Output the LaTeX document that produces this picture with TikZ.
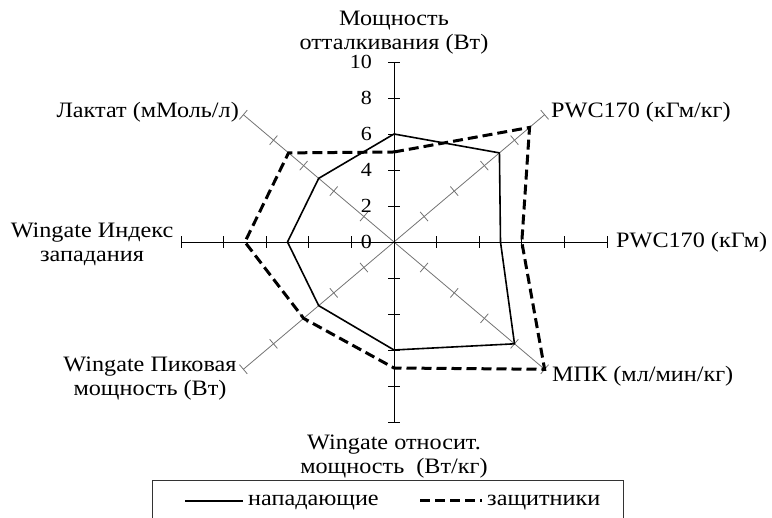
\documentclass[tikz,border=0pt]{standalone}
\usepackage{fontspec}
\setmainfont{Liberation Serif}
\usepackage{graphicx}
\newcommand{\sx}[1]{\scalebox{1.1}[1]{#1}}
\newcommand{\twol}[2]{\sx{\begin{tabular}[t]{@{}c@{}}#1\\#2\end{tabular}}}
\begin{document}
\begin{tikzpicture}[x=1pt,y=1pt,
  font=\fontsize{22}{24}\selectfont,
  lab/.style={inner sep=0pt},
  numlab/.style={inner sep=0pt, anchor=east, font=\fontsize{20}{22}\selectfont},
  axmain/.style={black, line width=0.9pt},
  axdiag/.style={black!55, line width=0.8pt},
  att/.style={black, line width=1.6pt, line join=round},
  def/.style={black, line width=3pt, dash pattern=on 10pt off 5pt},
  legbox/.style={black!80, line width=1pt}]
\useasboundingbox (0,0) rectangle (772,518);
\begin{scope}[shift={(394pt,276pt)}, x=21.3pt, y=18pt]
  % axes
  \draw[axdiag] (135:10) -- (-45:10);
  \draw[axdiag] (45:10) -- (-135:10);
  \draw[axmain] (-10,0) -- (10,0);
  \draw[axmain] (0,-10) -- (0,10);
  % ticks
  \foreach \r in {2,4,...,10} {
    \draw[axmain] (\r,0) ++(0pt,-6pt) -- ++(0pt,12pt);
    \draw[axmain] (-\r,0) ++(0pt,-6pt) -- ++(0pt,12pt);
    \draw[axmain] (0,\r) ++(-6pt,0pt) -- ++(12pt,0pt);
    \draw[axmain] (0,-\r) ++(-6pt,0pt) -- ++(12pt,0pt);
    \draw[axdiag] (45:\r) ++(-3.9pt,4.6pt) -- ++(7.8pt,-9.2pt);
    \draw[axdiag] (-135:\r) ++(-3.9pt,4.6pt) -- ++(7.8pt,-9.2pt);
    \draw[axdiag] (135:\r) ++(-3.9pt,-4.6pt) -- ++(7.8pt,9.2pt);
    \draw[axdiag] (-45:\r) ++(-3.9pt,-4.6pt) -- ++(7.8pt,9.2pt);
  }
  % scale numbers
  \foreach \v in {0,2,...,10}
    \node[numlab] (n\v) at ([xshift=-22pt]0,\v) {\sx{\v}};
  % data: нападающие
  \coordinate (a0) at (90:6);
  \coordinate (a1) at (45:7);
  \coordinate (a2) at (0:5);
  \coordinate (a3) at (-45:8);
  \coordinate (a4) at (-90:6);
  \coordinate (a5) at (-135:5);
  \coordinate (a6) at (180:5);
  \coordinate (a7) at (135:5);
  \draw[att] (a0) -- (a1) -- (a2) -- (a3) -- (a4) -- (a5) -- (a6) -- (a7) -- cycle;
  % data: защитники
  \coordinate (d0) at (90:5);
  \coordinate (d1) at (45:9);
  \coordinate (d2) at (0:6);
  \coordinate (d3) at (-45:10);
  \coordinate (d4) at (-90:7);
  \coordinate (d5) at (-135:6);
  \coordinate (d6) at (180:7);
  \coordinate (d7) at (135:7);
  \draw[def] (d0) -- (d1) -- (d2) -- (d3) -- (d4) -- (d5) -- (d6) -- (d7) -- cycle;
\end{scope}
% axis labels
\node[lab, anchor=base] (l0) at (394,492) {\twol{Мощность}{отталкивания (Вт)}};
\node[lab, anchor=base west] (l1) at (551,400) {\sx{PWC170 (кГм/кг)}};
\node[lab, anchor=base west] (l2) at (616,270) {\sx{PWC170 (кГм)}};
\node[lab, anchor=base west] (l3) at (552,136) {\sx{МПК (мл/мин/кг)}};
\node[lab, anchor=base] (l4) at (394,68) {\twol{Wingate относит.}{мощность\ \ (Вт/кг)}};
\node[lab, anchor=base] (l5) at (150,146) {\twol{Wingate Пиковая}{мощность (Вт)}};
\node[lab, anchor=base] (l6) at (92,280) {\twol{Wingate Индекс}{западания}};
\node[lab, anchor=base east] (l7) at (239,400) {\sx{Лактат (мМоль/л)}};
% legend
\coordinate (bx1) at (152,-2);
\coordinate (bx2) at (152,37);
\coordinate (bx3) at (623,37);
\coordinate (bx4) at (623,-2);
\draw[legbox] (bx1) -- (bx2) -- (bx3) -- (bx4);
\coordinate (s1) at (185,17);
\coordinate (s2) at (243,17);
\draw[att] (s1) -- (s2);
\node[lab, anchor=base west] (t1) at (248,12) {\sx{нападающие}};
\coordinate (q1) at (420,17);
\coordinate (q2) at (482,17);
\draw[def] (q1) -- (q2);
\node[lab, anchor=base west] (t2) at (487,12) {\sx{защитники}};
\end{tikzpicture}
\end{document}
